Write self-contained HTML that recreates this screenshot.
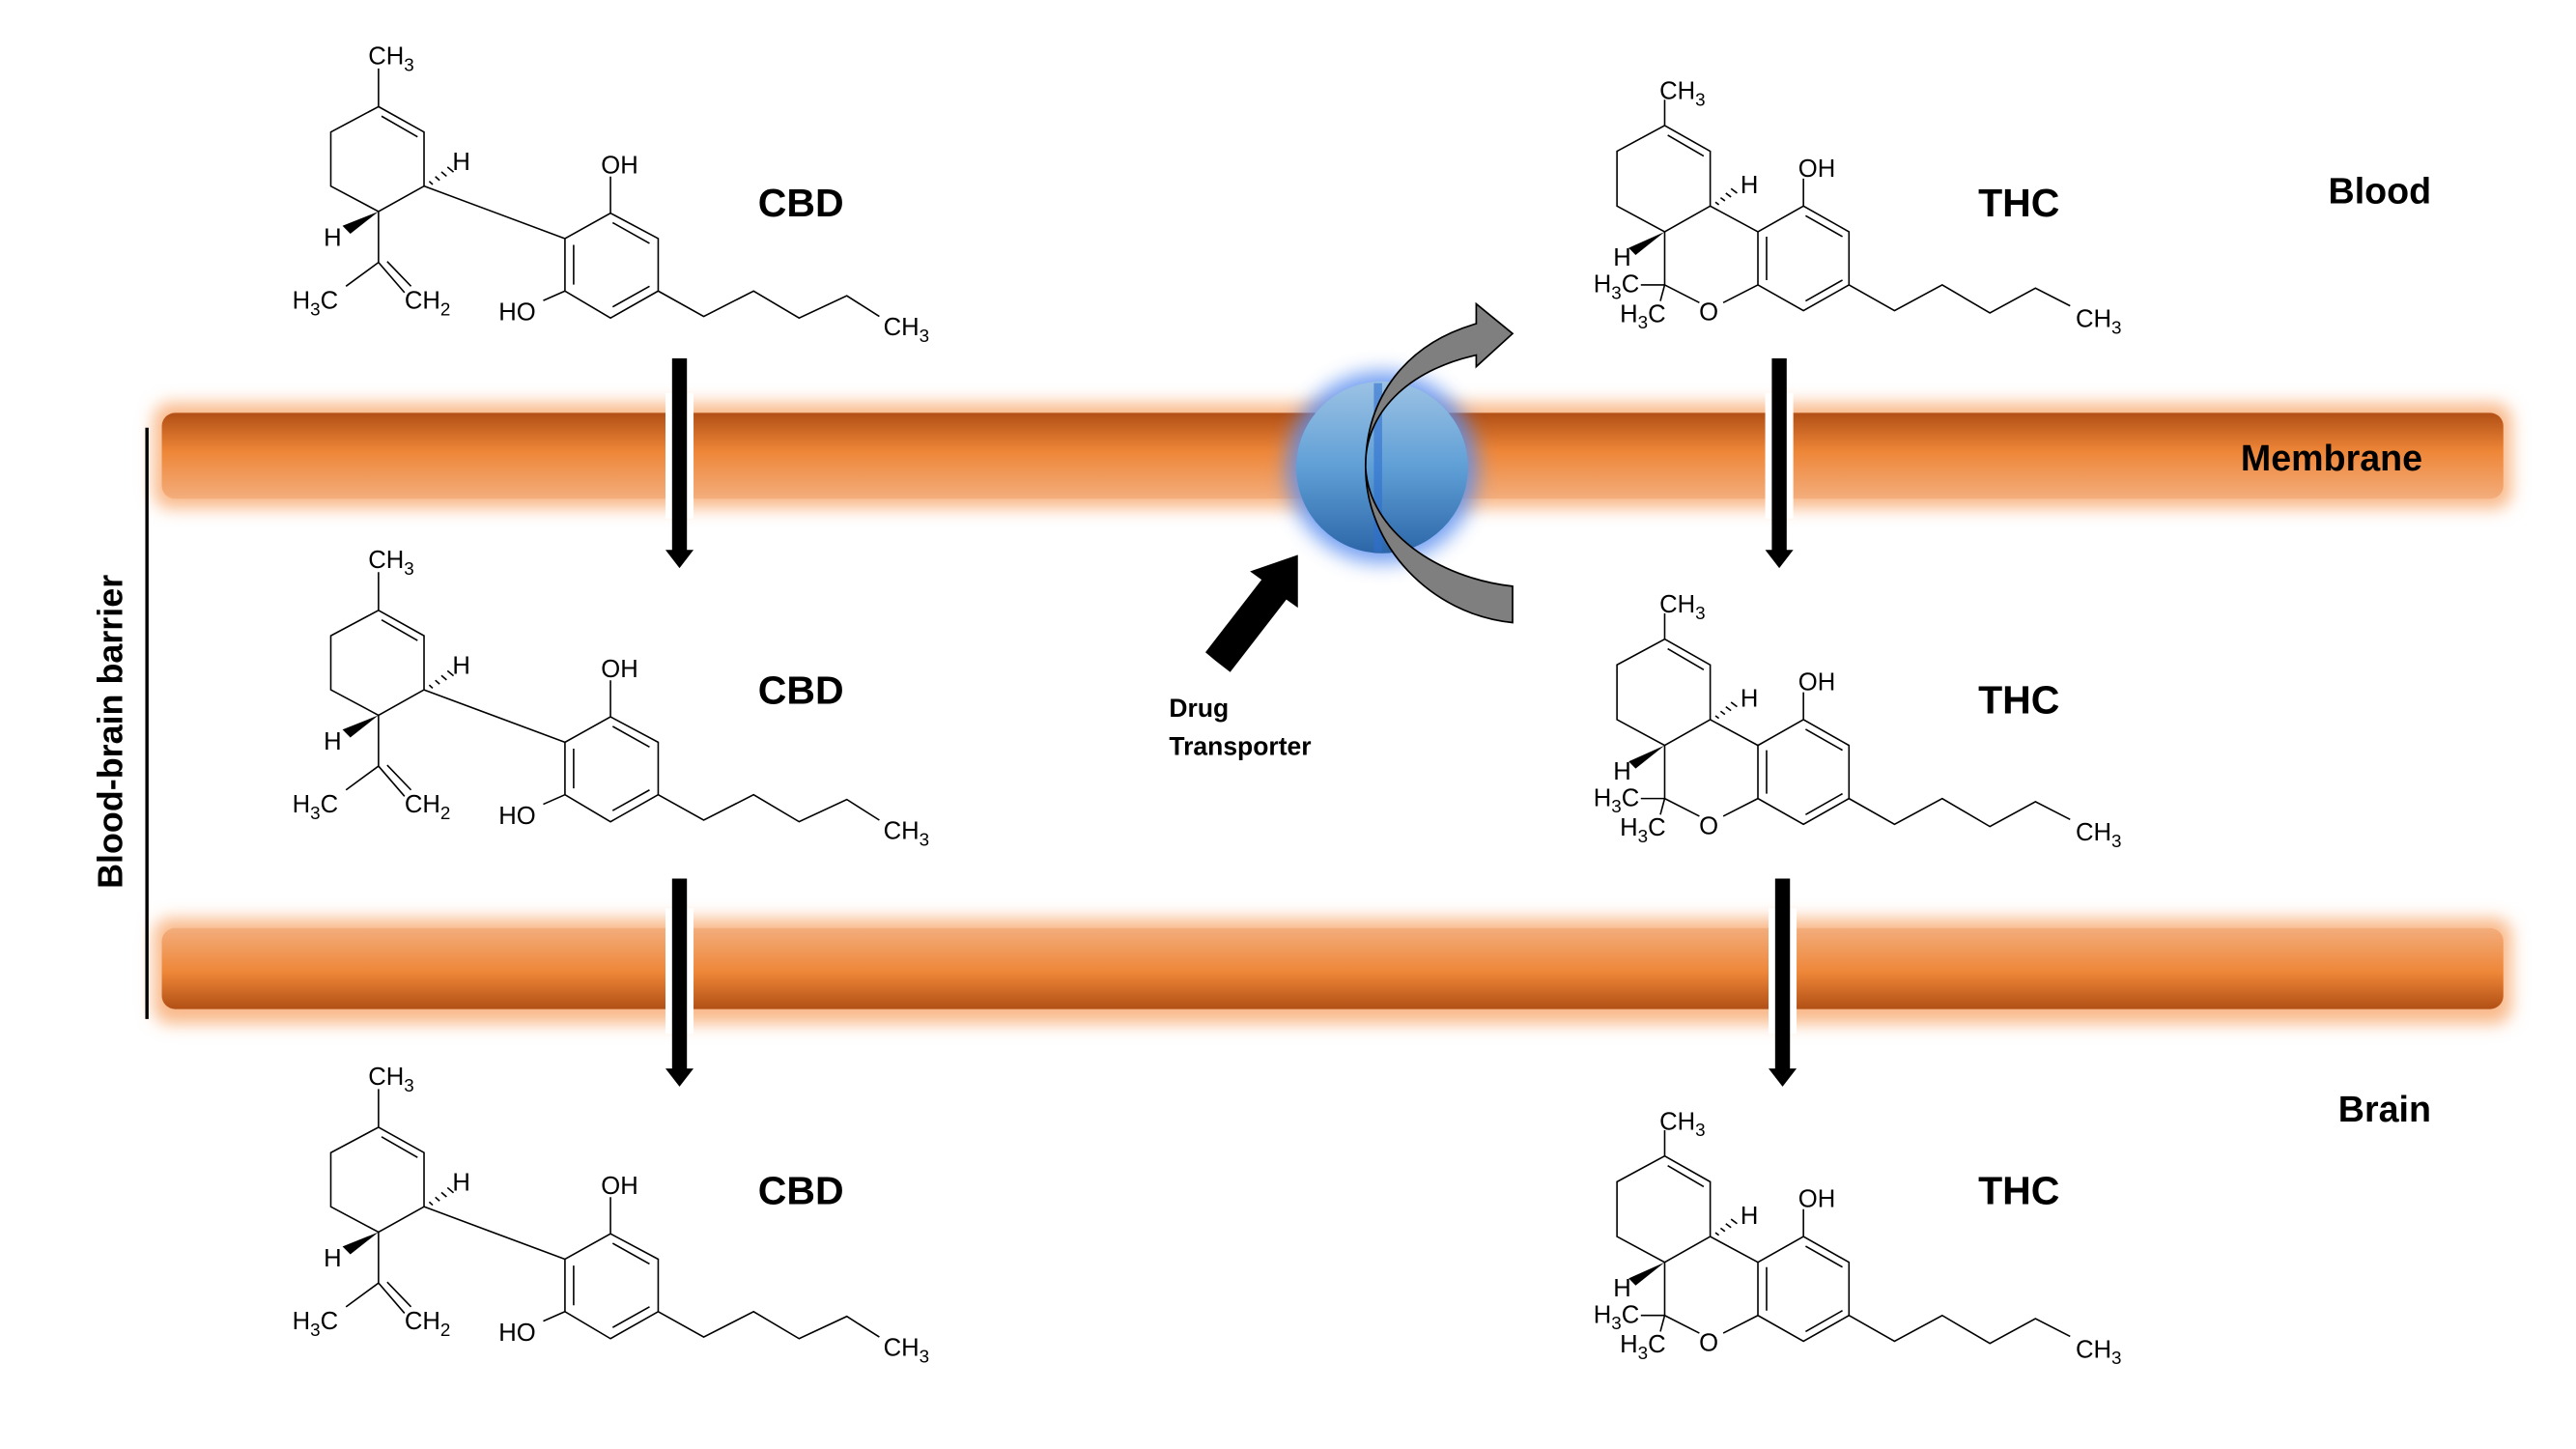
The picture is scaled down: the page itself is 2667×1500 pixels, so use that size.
<!DOCTYPE html>
<html><head><meta charset="utf-8"><style>
html,body{margin:0;padding:0;background:#fff;}
svg{display:block}
.m{font-family:"Liberation Sans",Arial,sans-serif;font-size:15px;fill:#000}
.m tspan.s{font-size:11px}
.b{font-family:"Liberation Sans",Arial,sans-serif;font-weight:bold;fill:#000}
</style></head><body>
<svg width="2667" height="1500" viewBox="0 0 1560 877.4" preserveAspectRatio="none" xmlns="http://www.w3.org/2000/svg">
<defs>
<linearGradient id="mt" x1="0" y1="0" x2="0" y2="1">
<stop offset="0" stop-color="#b14f15"/><stop offset="0.45" stop-color="#ee8638"/><stop offset="1" stop-color="#f3ad7c"/></linearGradient>
<linearGradient id="mb" x1="0" y1="1" x2="0" y2="0">
<stop offset="0" stop-color="#b14f15"/><stop offset="0.45" stop-color="#ee8638"/><stop offset="1" stop-color="#f3ad7c"/></linearGradient>
<linearGradient id="bl" x1="0" y1="0" x2="0" y2="1">
<stop offset="0" stop-color="#9cc2e4"/><stop offset="0.5" stop-color="#5f9fd6"/><stop offset="1" stop-color="#2c66a8"/></linearGradient>
<filter id="gl" x="-10%" y="-60%" width="120%" height="220%"><feGaussianBlur stdDeviation="5"/></filter>
<filter id="gb" x="-50%" y="-50%" width="200%" height="200%"><feGaussianBlur stdDeviation="6"/></filter>
<g id="cbd" fill="none" stroke="#000" stroke-width="1.6">
<g transform="matrix(.2626 0 0 .1925 146.5 2)">
<path vector-effect="non-scaling-stroke" d="M315,205 L315,325 M315,325 L420,405 L420,575 L315,655 L205,575 L205,405 Z M322,355 L405,420 M315,655 L315,815 L240,890 M315,815 L375,910 M335,812 L390,890 M420,575 L745,740 M745,740 L850,660 L960,740 L960,905 L850,990 L745,905 Z M765,760 L765,885 M855,690 L940,755 M940,890 L855,955 M850,660 L850,545 M745,905 L695,935 M960,905 L1065,985 L1180,905 L1285,990 L1395,920 L1470,985"/>
<path vector-effect="non-scaling-stroke" d="M432,560 L440,570 M446,545 L456,557 M460,530 L472,544 M474,515 L488,531"/>
<path d="M315,655 L232,700 L250,725 Z" fill="#000" stroke="none"/>
</g></g>
<g id="thc" fill="none" stroke="#000" stroke-width="1.6">
<g transform="matrix(.2626 0 0 .195 935.9 29.2)">
<path vector-effect="non-scaling-stroke" d="M275,160 L275,240 M275,240 L380,320 L380,490 L275,570 L165,490 L165,320 Z M282,270 L365,335 M275,570 L275,735 L220,735 M275,735 L265,785 M275,735 L355,790 M410,790 L490,735 M380,490 L490,570 M490,570 L595,490 L700,570 L700,735 L595,815 L490,735 Z M510,585 L510,720 M600,520 L685,585 M685,720 L600,785 M595,490 L595,405 M700,735 L805,815 L915,735 L1025,822 L1130,745 L1210,800"/>
<path vector-effect="non-scaling-stroke" d="M392,478 L400,486 M404,464 L414,474 M416,450 L428,462 M428,436 L442,450"/>
<path d="M275,570 L192,620 L208,642 Z" fill="#000" stroke="none"/>
</g></g>
</defs>

<!-- membranes -->
<rect x="93" y="244" width="1428" height="64" rx="10" fill="#f9b98a" filter="url(#gl)"/>
<rect x="98" y="250" width="1418" height="52" rx="8" fill="url(#mt)"/>
<rect x="93" y="556" width="1428" height="64" rx="10" fill="#f9b98a" filter="url(#gl)"/>
<rect x="98" y="562" width="1418" height="49" rx="8" fill="url(#mb)"/>

<!-- gaps for arrows -->
<rect x="403" y="238" width="17" height="76" fill="#fff"/>
<rect x="1069" y="238" width="17" height="76" fill="#fff"/>
<rect x="403" y="550" width="17" height="76" fill="#fff"/>
<rect x="1071" y="550" width="17" height="76" fill="#fff"/>

<!-- vertical arrows -->
<g fill="#000">
<rect x="407" y="217" width="9" height="117"/><path d="M403,333 L420,333 L411.5,344 Z"/>
<rect x="1073" y="217" width="9" height="117"/><path d="M1069,333 L1086,333 L1077.5,344 Z"/>
<rect x="407" y="532" width="9" height="116"/><path d="M403,647 L420,647 L411.5,658 Z"/>
<rect x="1075" y="532" width="9" height="116"/><path d="M1071,647 L1088,647 L1079.5,658 Z"/>
</g>

<!-- BBB -->
<line x1="89" y1="259" x2="89" y2="617" stroke="#000" stroke-width="2"/>
<text class="b" font-size="21" transform="translate(74,443) rotate(-90)" text-anchor="middle">Blood-brain barrier</text>

<!-- transporter -->
<circle cx="837" cy="283" r="58" fill="#5b8ff0" filter="url(#gb)" opacity="0.85"/>
<circle cx="837" cy="283" r="52" fill="url(#bl)"/>
<rect x="832" y="232" width="5" height="102" fill="#2f6fd0" opacity="0.6"/>
<path d="M894,196 C852,208 827,240 827,283 C827,330 866,372 916,377 L916,355 C871,350 829,322 827,283 C826,250 853,224 894,215 L894,222 L916,202 L894,184 Z" fill="#7f7f7f" stroke="#000" stroke-width="1"/>
<path d="M736,400 L745,407 L779,363 L786,368 L786,336 L757,346 L764,351 L730,395 Z" fill="#000"/>
<text class="b" font-size="15.5" x="708" y="434">Drug</text>
<text class="b" font-size="15.5" x="708" y="457">Transporter</text>

<!-- labels -->
<text class="b" font-size="22" x="1410" y="123">Blood</text>
<text class="b" font-size="22" x="1357" y="285">Membrane</text>
<text class="b" font-size="22" x="1416" y="679">Brain</text>
<text class="b" font-size="24" x="459" y="131">CBD</text>
<text class="b" font-size="24" x="459" y="426">CBD</text>
<text class="b" font-size="24" x="459" y="729">CBD</text>
<text class="b" font-size="24" x="1198" y="131">THC</text>
<text class="b" font-size="24" x="1198" y="432">THC</text>
<text class="b" font-size="24" x="1198" y="729">THC</text>

<!-- molecules -->
<use href="#cbd"/>
<use href="#cbd" transform="translate(0,305)"/>
<use href="#cbd" transform="translate(0,618)"/>
<use href="#thc"/>
<use href="#thc" transform="translate(0,311)"/>
<use href="#thc" transform="translate(0,624)"/>

<g class="m">
<text x="223" y="39">CH<tspan class="s" dy="4">3</tspan></text>
<text x="274" y="103">H</text>
<text x="196" y="149">H</text>
<text x="177" y="187">H<tspan class="s" dy="4">3</tspan><tspan dy="-4">C</tspan></text>
<text x="245" y="187">CH<tspan class="s" dy="4">2</tspan></text>
<text x="364" y="105">OH</text>
<text x="302" y="194">HO</text>
<text x="535" y="203">CH<tspan class="s" dy="4">3</tspan></text>
</g>
<g class="m" transform="translate(0,305)">
<text x="223" y="39">CH<tspan class="s" dy="4">3</tspan></text>
<text x="274" y="103">H</text>
<text x="196" y="149">H</text>
<text x="177" y="187">H<tspan class="s" dy="4">3</tspan><tspan dy="-4">C</tspan></text>
<text x="245" y="187">CH<tspan class="s" dy="4">2</tspan></text>
<text x="364" y="105">OH</text>
<text x="302" y="194">HO</text>
<text x="535" y="203">CH<tspan class="s" dy="4">3</tspan></text>
</g>
<g class="m" transform="translate(0,618)">
<text x="223" y="39">CH<tspan class="s" dy="4">3</tspan></text>
<text x="274" y="103">H</text>
<text x="196" y="149">H</text>
<text x="177" y="187">H<tspan class="s" dy="4">3</tspan><tspan dy="-4">C</tspan></text>
<text x="245" y="187">CH<tspan class="s" dy="4">2</tspan></text>
<text x="364" y="105">OH</text>
<text x="302" y="194">HO</text>
<text x="535" y="203">CH<tspan class="s" dy="4">3</tspan></text>
</g>

<g class="m">
<text x="1005" y="60">CH<tspan class="s" dy="4">3</tspan></text>
<text x="1054" y="117">H</text>
<text x="977" y="161">H</text>
<text x="965" y="177">H<tspan class="s" dy="4">3</tspan><tspan dy="-4">C</tspan></text>
<text x="981" y="195">H<tspan class="s" dy="4">3</tspan><tspan dy="-4">C</tspan></text>
<text x="1029" y="194">O</text>
<text x="1089" y="107">OH</text>
<text x="1257" y="198">CH<tspan class="s" dy="4">3</tspan></text>
</g>
<g class="m" transform="translate(0,311)">
<text x="1005" y="60">CH<tspan class="s" dy="4">3</tspan></text>
<text x="1054" y="117">H</text>
<text x="977" y="161">H</text>
<text x="965" y="177">H<tspan class="s" dy="4">3</tspan><tspan dy="-4">C</tspan></text>
<text x="981" y="195">H<tspan class="s" dy="4">3</tspan><tspan dy="-4">C</tspan></text>
<text x="1029" y="194">O</text>
<text x="1089" y="107">OH</text>
<text x="1257" y="198">CH<tspan class="s" dy="4">3</tspan></text>
</g>
<g class="m" transform="translate(0,624)">
<text x="1005" y="60">CH<tspan class="s" dy="4">3</tspan></text>
<text x="1054" y="117">H</text>
<text x="977" y="161">H</text>
<text x="965" y="177">H<tspan class="s" dy="4">3</tspan><tspan dy="-4">C</tspan></text>
<text x="981" y="195">H<tspan class="s" dy="4">3</tspan><tspan dy="-4">C</tspan></text>
<text x="1029" y="194">O</text>
<text x="1089" y="107">OH</text>
<text x="1257" y="198">CH<tspan class="s" dy="4">3</tspan></text>
</g>
</svg>
</body></html>
